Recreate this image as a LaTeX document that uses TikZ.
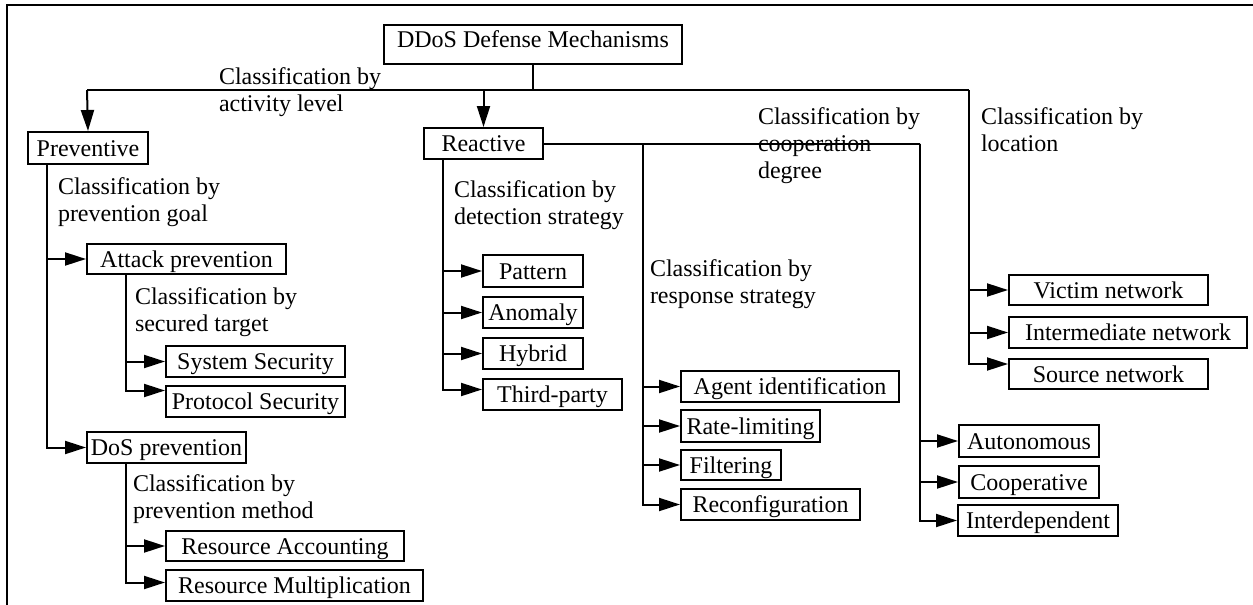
\documentclass[tikz,border=0pt]{standalone}
\usepackage{fontspec}
\setmainfont{Liberation Serif}
\usetikzlibrary{arrows.meta}
\tikzset{
  box/.style={draw,anchor=north west,inner xsep=2pt,inner ysep=0pt,text height=18pt,text depth=2pt},
  lbl/.style={anchor=north west,inner sep=0pt,align=left},
}
\begin{document}
\begin{tikzpicture}[x=1pt,y=-1pt,line width=2pt,>={Triangle[length=21pt,width=13pt]},font=\fontsize{24}{27}\selectfont]
\useasboundingbox (0,0) rectangle (1253,605);
\draw[line width=2.4pt] (7,605) -- (7,5) -- (1253,5);
% boxes
\node[box,minimum width=298pt,minimum height=39pt,text depth=12pt] (root) at (383,24) {DDoS Defense Mechanisms};
\node[box,minimum width=120pt,minimum height=32pt] (prev)    at (27,131)  {Preventive};
\node[box,minimum width=119pt,minimum height=31pt] (react)   at (423,127) {Reactive};
\node[box,minimum width=199pt,minimum height=30pt] (attack)  at (86,243)  {Attack prevention};
\node[box,minimum width=179pt,minimum height=31pt] (syssec)  at (165,345) {System Security};
\node[box,minimum width=179pt,minimum height=31pt] (protsec) at (165,385) {Protocol Security};
\node[box,minimum width=159pt,minimum height=31pt] (dos)     at (86,431)  {DoS prevention};
\node[box,minimum width=238pt,minimum height=30pt] (resacc)  at (165,530) {Resource Accounting};
\node[box,minimum width=257pt,minimum height=31pt] (resmul)  at (165,569) {Resource Multiplication};
\node[box,minimum width=100pt,minimum height=32pt] (pattern) at (482,254) {Pattern};
\node[box,minimum width=100pt,minimum height=31pt] (anomaly) at (482,296) {Anomaly};
\node[box,minimum width=100pt,minimum height=31pt] (hybrid)  at (482,337) {Hybrid};
\node[box,minimum width=139pt,minimum height=31pt] (third)   at (482,378) {Third-party};
\node[box,minimum width=218pt,minimum height=31pt] (agent)   at (680,370) {Agent identification};
\node[box,minimum width=139pt,minimum height=32pt] (rate)    at (680,409) {Rate-limiting};
\node[box,minimum width=100pt,minimum height=30pt] (filter)  at (680,449) {Filtering};
\node[box,minimum width=179pt,minimum height=31pt] (reconf)  at (680,488) {Reconfiguration};
\node[box,minimum width=140pt,minimum height=32pt] (auton)   at (958,424) {Autonomous};
\node[box,minimum width=140pt,minimum height=32pt] (coopv)   at (958,465) {Cooperative};
\node[box,minimum width=160pt,minimum height=31pt] (interd)  at (957,504) {Interdependent};
\node[box,minimum width=199pt,minimum height=30pt] (victim)  at (1008,274) {Victim network};
\node[box,minimum width=238pt,minimum height=31pt] (inter)   at (1008,316) {Intermediate network};
\node[box,minimum width=199pt,minimum height=30pt] (src)     at (1008,358) {Source network};
% labels
\node[lbl] (actLbl)  at (218,66.5)  {Classification by\\activity level};
\node[lbl] (goalLbl) at (57,176.5)  {Classification by\\prevention goal};
\node[lbl] (tgtLbl)  at (134,286.5) {Classification by\\secured target};
\node[lbl] (methLbl) at (132,473.5) {Classification by\\prevention method};
\node[lbl] (detLbl)  at (453,179.5) {Classification by\\detection strategy};
\node[lbl] (respLbl) at (649,258.5) {Classification by\\response strategy};
\node[lbl] (coopLbl) at (757,106.5) {Classification by\\cooperation\\degree};
\node[lbl] (locLbl)  at (980,106.5) {Classification by\\location};
% top level
\coordinate (busL) at (87,90);
\coordinate (busR) at (969,90);
\draw (root.south) -- (root.south |- busL);
\draw (busL) -- (busR);
\draw[->] (busL) -- (prev.north);
\draw[->] (react.north |- busL) -- (react.north);
% preventive
\coordinate (prevStem) at ([xshift=20pt]prev.south west);
\draw[->] (prevStem) |- (attack.west);
\draw[->] (prevStem) |- (dos.west);
\coordinate (attStem) at ([xshift=40pt]attack.south west);
\draw[->] (attStem) |- (syssec.west);
\draw[->] (attStem) |- ([yshift=11pt]protsec.west);
\coordinate (dosStem) at ([xshift=40pt]dos.south west);
\draw[->] (dosStem) |- (resacc.west);
\draw[->] (dosStem) |- ([yshift=3pt]resmul.west);
% reactive
\coordinate (detStem) at ([xshift=20pt]react.south west);
\foreach \n in {pattern,anomaly,hybrid} \draw[->] (detStem) |- (\n.west);
\draw[->] (detStem) |- ([yshift=5pt]third.west);
\path (react.east) ++(99,0) coordinate (respStem) ++(277,0) coordinate (coopStem);
\draw (react.east) -- (coopStem);
\foreach \n in {agent,rate,filter,reconf} \draw[->] (respStem) |- (\n.west);
\foreach \n in {auton,coopv,interd} \draw[->] (coopStem) |- (\n.west);
% location
\foreach \n in {victim,inter} \draw[->] (busR) |- (\n.west);
\draw[->] (busR) |- ([yshift=10pt]src.west);
\end{tikzpicture}
\end{document}
